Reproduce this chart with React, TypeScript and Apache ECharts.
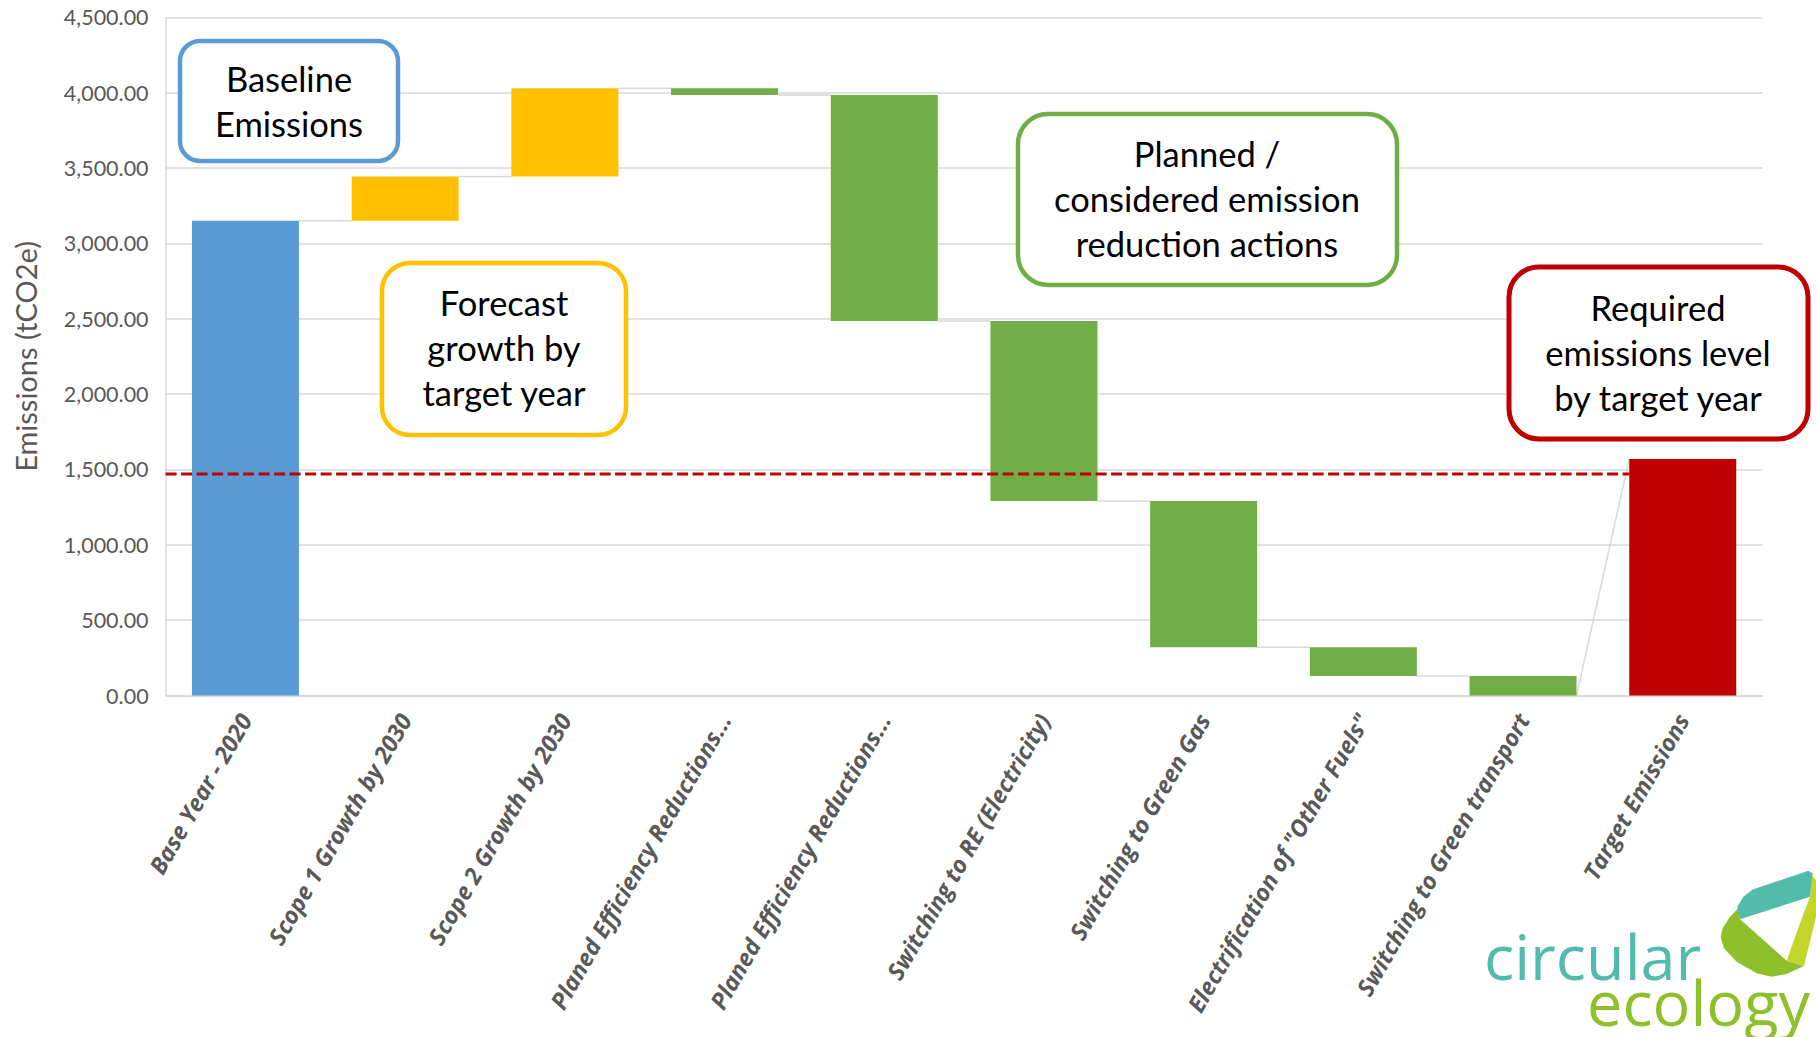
import React, { useEffect, useRef } from "react";
import * as echarts from "echarts";

const categories = [
  "Base Year - 2020",
  "Scope 1 Growth by 2030",
  "Scope 2 Growth by 2030",
  "Planed Efficiency Reductions...",
  "Planed Efficiency Reductions...",
  "Switching to RE (Electricity)",
  "Switching to Green Gas",
  'Electrification of "Other Fuels"',
  "Switching to Green transport",
  "Target Emissions",
];
const baseValue = 3150;
const changes = [295, 585, -45, -1500, -1195, -970, -190, -130];
const targetValue = 1570;
const thresholdValue = 1470;
const yTicks = { min: 0, max: 4500, interval: 500 };

const BAR_RATIO = 0.67;
const COLORS = { base: "#5b9bd5", up: "#ffc000", down: "#70ad47", target: "#c00000" };

export default function App() {
  const ref = useRef<HTMLDivElement>(null);
  useEffect(() => {
    if (!ref.current) return;
    const chart = echarts.init(ref.current, undefined, { renderer: "svg" });

    const helper: any[] = [];
    const visible: any[] = [];
    const totalsAfter: number[] = [];
    const startsOf: number[] = [];
    helper.push(0);
    visible.push({ value: baseValue, itemStyle: { color: COLORS.base } });
    totalsAfter.push(baseValue);
    startsOf.push(baseValue);
    let run = baseValue;
    changes.forEach((d) => {
      const start = run;
      const end = run + d;
      startsOf.push(start);
      helper.push(Math.min(start, end));
      visible.push({ value: Math.abs(d), itemStyle: { color: d >= 0 ? COLORS.up : COLORS.down } });
      run = end;
      totalsAfter.push(end);
    });
    helper.push(0);
    visible.push({ value: targetValue, itemStyle: { color: COLORS.target } });
    startsOf.push(targetValue);

    const connectorData: number[][] = [];
    for (let i = 0; i < categories.length - 1; i++) {
      connectorData.push([i, totalsAfter[i], startsOf[i + 1]]);
    }

    const fmt = (v: number) =>
      v.toLocaleString("en-US", { minimumFractionDigits: 2, maximumFractionDigits: 2 });

    const boxText = {
      fontFamily: "Lato",
      fontSize: 34.5,
      fill: "#000000",
      align: "center",
      verticalAlign: "middle",
      lineHeight: 45,
    };

    const option: any = {
      animation: false,
      grid: { left: 165.6, right: 53.4, top: 17.4, bottom: 341.5, containLabel: false },
      xAxis: {
        type: "category",
        data: categories,
        axisLine: { lineStyle: { color: "#d9d9d9", width: 1.5 } },
        axisTick: { show: false },
        axisLabel: {
          interval: 0,
          rotate: 60,
          margin: 20,
          color: "#595959",
          fontFamily: "Open Sans",
          fontSize: 23.5,
          fontWeight: "bold",
          fontStyle: "italic",
        },
        splitLine: { show: false },
      },
      yAxis: {
        type: "value",
        min: yTicks.min,
        max: yTicks.max,
        interval: yTicks.interval,
        name: "Emissions (tCO2e)",
        nameLocation: "middle",
        nameRotate: 90,
        nameGap: 126,
        nameTextStyle: { color: "#595959", fontFamily: "Lato", fontSize: 29 },
        axisLine: { show: true, lineStyle: { color: "#d9d9d9", width: 1.5 } },
        axisTick: { show: false },
        axisLabel: {
          margin: 17,
          color: "#595959",
          fontFamily: "Lato",
          fontSize: 21.5,
          formatter: fmt,
        },
        splitLine: { lineStyle: { color: "#d9d9d9", width: 1.5 } },
      },
      series: [
        {
          type: "custom",
          z: 1,
          silent: true,
          data: connectorData,
          encode: { x: 0, y: 1 },
          renderItem: (params: any, api: any) => {
            const i = api.value(0);
            const p1 = api.coord([i, api.value(1)]);
            const p2 = api.coord([i + 1, api.value(2)]);
            const half = (api.size([1, 0])[0] * BAR_RATIO) / 2;
            return {
              type: "line",
              shape: { x1: p1[0] + half, y1: p1[1], x2: p2[0] - half, y2: p2[1] },
              style: { stroke: "#d9d9d9", lineWidth: 1.5 },
            };
          },
        },
        {
          type: "bar",
          stack: "wf",
          z: 2,
          barWidth: BAR_RATIO * 100 + "%",
          silent: true,
          itemStyle: { color: "transparent" },
          data: helper,
        },
        {
          type: "bar",
          stack: "wf",
          z: 2,
          barWidth: BAR_RATIO * 100 + "%",
          data: visible,
        },
        {
          type: "custom",
          z: 5,
          silent: true,
          data: [[0, thresholdValue]],
          encode: { x: 0, y: 1 },
          renderItem: (params: any, api: any) => {
            const v = api.value(1);
            const p = api.coord([0, v]);
            const last = api.coord([categories.length - 1, v]);
            const half = (api.size([1, 0])[0] * BAR_RATIO) / 2;
            const cs = params.coordSys;
            return {
              type: "line",
              shape: { x1: cs.x, y1: p[1], x2: last[0] - half, y2: p[1] },
              style: { stroke: "#c00000", lineWidth: 3, lineDash: [11, 4.5] },
            };
          },
        },
      ],
      graphic: [
        {
          type: "rect",
          z: 10,
          shape: { x: 180, y: 41, width: 218, height: 120, r: 20 },
          style: { fill: "#ffffff", stroke: "#5b9bd5", lineWidth: 4.5 },
        },
        {
          type: "text",
          z: 11,
          x: 289,
          y: 100.5,
          style: { ...boxText, text: "Baseline\nEmissions" },
        },
        {
          type: "rect",
          z: 10,
          shape: { x: 382, y: 263, width: 244, height: 172, r: 28 },
          style: { fill: "#ffffff", stroke: "#ffc000", lineWidth: 4.5 },
        },
        {
          type: "text",
          z: 11,
          x: 504,
          y: 347.5,
          style: { ...boxText, text: "Forecast\ngrowth by\ntarget year" },
        },
        {
          type: "rect",
          z: 10,
          shape: { x: 1018, y: 114, width: 379, height: 171, r: 30 },
          style: { fill: "#ffffff", stroke: "#70ad47", lineWidth: 4.5 },
        },
        {
          type: "text",
          z: 11,
          x: 1207,
          y: 198.5,
          style: { ...boxText, text: "Planned /\nconsidered emission\nreduction actions" },
        },
        {
          type: "rect",
          z: 10,
          shape: { x: 1509, y: 267, width: 299, height: 172, r: 30 },
          style: { fill: "#ffffff", stroke: "#c00000", lineWidth: 5 },
        },
        {
          type: "text",
          z: 11,
          x: 1658,
          y: 352.5,
          style: { ...boxText, text: "Required\nemissions level\nby target year" },
        },
        // logo
        {
          type: "polygon",
          z: 10,
          shape: {
            points: [
              [1738.3, 908.3], [1730, 916.7], [1722.7, 928.3], [1720.7, 937.3], [1724, 948.3],
              [1736.7, 961.7], [1756.7, 973.3], [1771.7, 976.7], [1786.7, 974], [1804, 966],
              [1786.7, 960.7], [1740, 919.3],
            ],
          },
          style: { fill: "#8dc02a" },
        },
        {
          type: "polygon",
          z: 10,
          shape: {
            points: [
              [1811.7, 875], [1816, 880], [1816, 916.7], [1804, 966], [1786.7, 960.7],
              [1800, 923.3], [1810, 896.7],
            ],
          },
          style: { fill: "#c4d52a" },
        },
        {
          type: "polygon",
          z: 10,
          shape: {
            points: [
              [1737.3, 906.7], [1743.3, 896.7], [1753.3, 889.3], [1808.3, 870.7], [1812.7, 873.3],
              [1811.7, 880], [1810, 896.7], [1740, 919.3],
            ],
          },
          style: { fill: "#52bbab" },
        },
        {
          type: "text",
          z: 10,
          x: 1484,
          y: 955,
          style: {
            text: "circular",
            fontFamily: "Open Sans",
            fontWeight: 400,
            fontSize: 63,
            fill: "#52bbab",
            align: "left",
            verticalAlign: "middle",
          },
        },
        {
          type: "text",
          z: 10,
          x: 1587,
          y: 1001,
          style: {
            text: "ecology",
            fontFamily: "Open Sans",
            fontWeight: 400,
            fontSize: 63,
            fill: "#8dc02a",
            align: "left",
            verticalAlign: "middle",
          },
        },
      ],
    };
    chart.setOption(option);
    return () => chart.dispose();
  }, []);
  return (
    <div
      ref={ref}
      style={{ position: "absolute", left: 0, top: 0, width: 1816, height: 1037, background: "#ffffff" }}
    />
  );
}
